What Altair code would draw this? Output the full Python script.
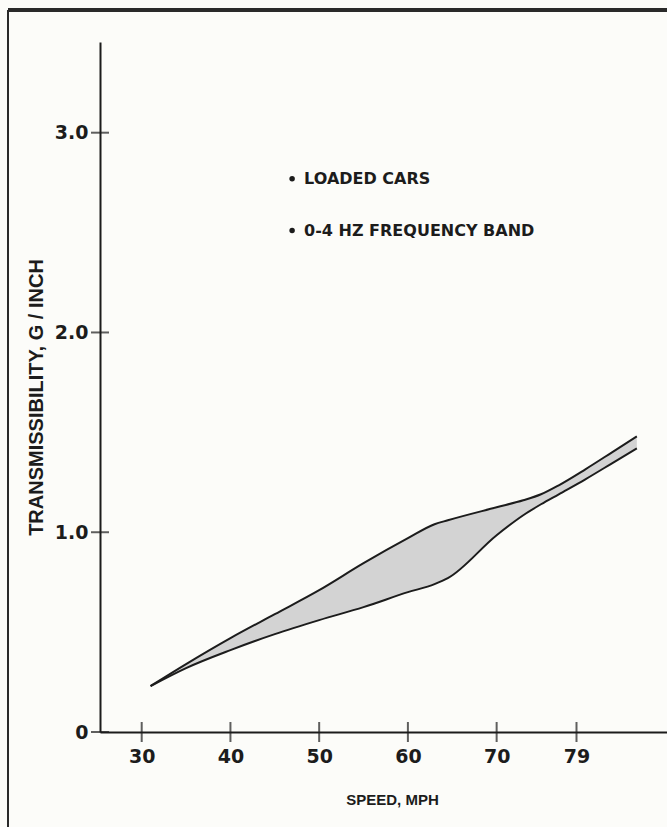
import altair as alt
import pandas as pd

# Transmissibility band for loaded cars, 0-4 Hz frequency band
speed = [31, 35, 40, 45, 50, 55, 60, 63, 64.5, 70, 73, 75, 77, 80, 83, 85.8]
upper = [0.23, 0.34, 0.47, 0.59, 0.71, 0.845, 0.97, 1.04, 1.06, 1.125, 1.16, 1.19, 1.235, 1.315, 1.40, 1.48]
lower = [0.23, 0.32, 0.41, 0.49, 0.56, 0.625, 0.70, 0.74, 0.77, 0.985, 1.085, 1.14, 1.19, 1.265, 1.345, 1.42]

x_ticks = [30, 40, 50, 60, 70, 79]
y_ticks = [0, 1, 2, 3]
notes = ["LOADED CARS", "0-4 HZ FREQUENCY BAND"]
note_y = [2.77, 2.51]

X_DOMAIN = [25.3, 89.2]
Y_DOMAIN = [0, 3.454]
INK = "#1c1c1c"
PAPER = "#fcfcf9"

band = pd.DataFrame({"speed": speed, "upper": upper, "lower": lower})
xt = pd.DataFrame({"v": x_ticks})
yt = pd.DataFrame({"v": y_ticks})
nt = pd.DataFrame({"text": notes, "y": note_y})

xs = alt.Scale(domain=X_DOMAIN, nice=False, zero=False)
ys = alt.Scale(domain=Y_DOMAIN, nice=False, zero=False)

x_axis = alt.Axis(
    values=x_ticks, ticks=False, grid=False, labelPadding=15,
    labelFont="DejaVu Sans", labelFontWeight="bold", labelFontSize=19, labelColor=INK,
    domainColor=INK, domainWidth=2,
    title="SPEED, MPH", titleFont="Liberation Sans", titleFontWeight="bold",
    titleFontSize=15, titleColor=INK, titleX=292, titleY=67, titleBaseline="middle",
)
y_axis = alt.Axis(
    values=y_ticks, ticks=False, grid=False, labelPadding=12,
    labelExpr="datum.value == 0 ? '0' : format(datum.value, '.1f')",
    labelFont="DejaVu Sans", labelFontWeight="bold", labelFontSize=19, labelColor=INK,
    domainColor=INK, domainWidth=2,
    title="TRANSMISSIBILITY, G / INCH", titleFont="Liberation Sans", titleFontWeight="bold",
    titleFontSize=20, titleColor=INK, titleX=-64, titleY=355, titleBaseline="middle",
    titleAngle=270,
)

area = alt.Chart(band).mark_area(color="#d3d3d3", interpolate="monotone").encode(
    x=alt.X("speed:Q", scale=xs, axis=x_axis),
    y=alt.Y("upper:Q", scale=ys, axis=y_axis),
    y2="lower:Q",
)
up_line = alt.Chart(band).mark_line(color=INK, strokeWidth=2, interpolate="monotone").encode(
    x=alt.X("speed:Q", scale=xs), y=alt.Y("upper:Q", scale=ys)
)
lo_line = alt.Chart(band).mark_line(color=INK, strokeWidth=2, interpolate="monotone").encode(
    x=alt.X("speed:Q", scale=xs), y=alt.Y("lower:Q", scale=ys)
)

# crossing tick marks on both axes
x_tick_marks = alt.Chart(xt).mark_tick(orient="vertical", color=INK, size=20, thickness=2).encode(
    x=alt.X("v:Q", scale=xs), y=alt.datum(0, scale=ys)
)
y_tick_marks = alt.Chart(yt).mark_tick(orient="horizontal", color=INK, size=18, thickness=2).encode(
    x=alt.datum(X_DOMAIN[0], scale=xs), y=alt.Y("v:Q", scale=ys)
)

bullets = alt.Chart(nt).mark_point(filled=True, color=INK, size=30, opacity=1).encode(
    x=alt.datum(46.95, scale=xs), y=alt.Y("y:Q", scale=ys)
)
note_text = alt.Chart(nt).mark_text(
    align="left", baseline="middle", font="DejaVu Sans", fontWeight="bold",
    fontSize=16, color=INK,
).encode(x=alt.datum(48.3, scale=xs), y=alt.Y("y:Q", scale=ys), text="text:N")

# page frame (top and left edges)
frame_top = alt.Chart(band).mark_rule(color="#2a2a2a", strokeWidth=3).encode(
    x=alt.value(-92), x2=alt.value(567), y=alt.value(-32)
)
frame_left = alt.Chart(band).mark_rule(color="#2a2a2a", strokeWidth=2).encode(
    x=alt.value(-92), y=alt.value(-32), y2=alt.value(785)
)

chart = alt.layer(
    area, up_line, lo_line, x_tick_marks, y_tick_marks, bullets, note_text, frame_top, frame_left
).properties(
    width=567, height=690,
    padding={"left": 100, "top": 42, "right": 0, "bottom": 95},
    autosize=alt.AutoSizeParams(type="none"),
    background=PAPER,
).configure_view(stroke=None)

chart.save("out.html", embed_options={"renderer": "svg", "actions": False})
